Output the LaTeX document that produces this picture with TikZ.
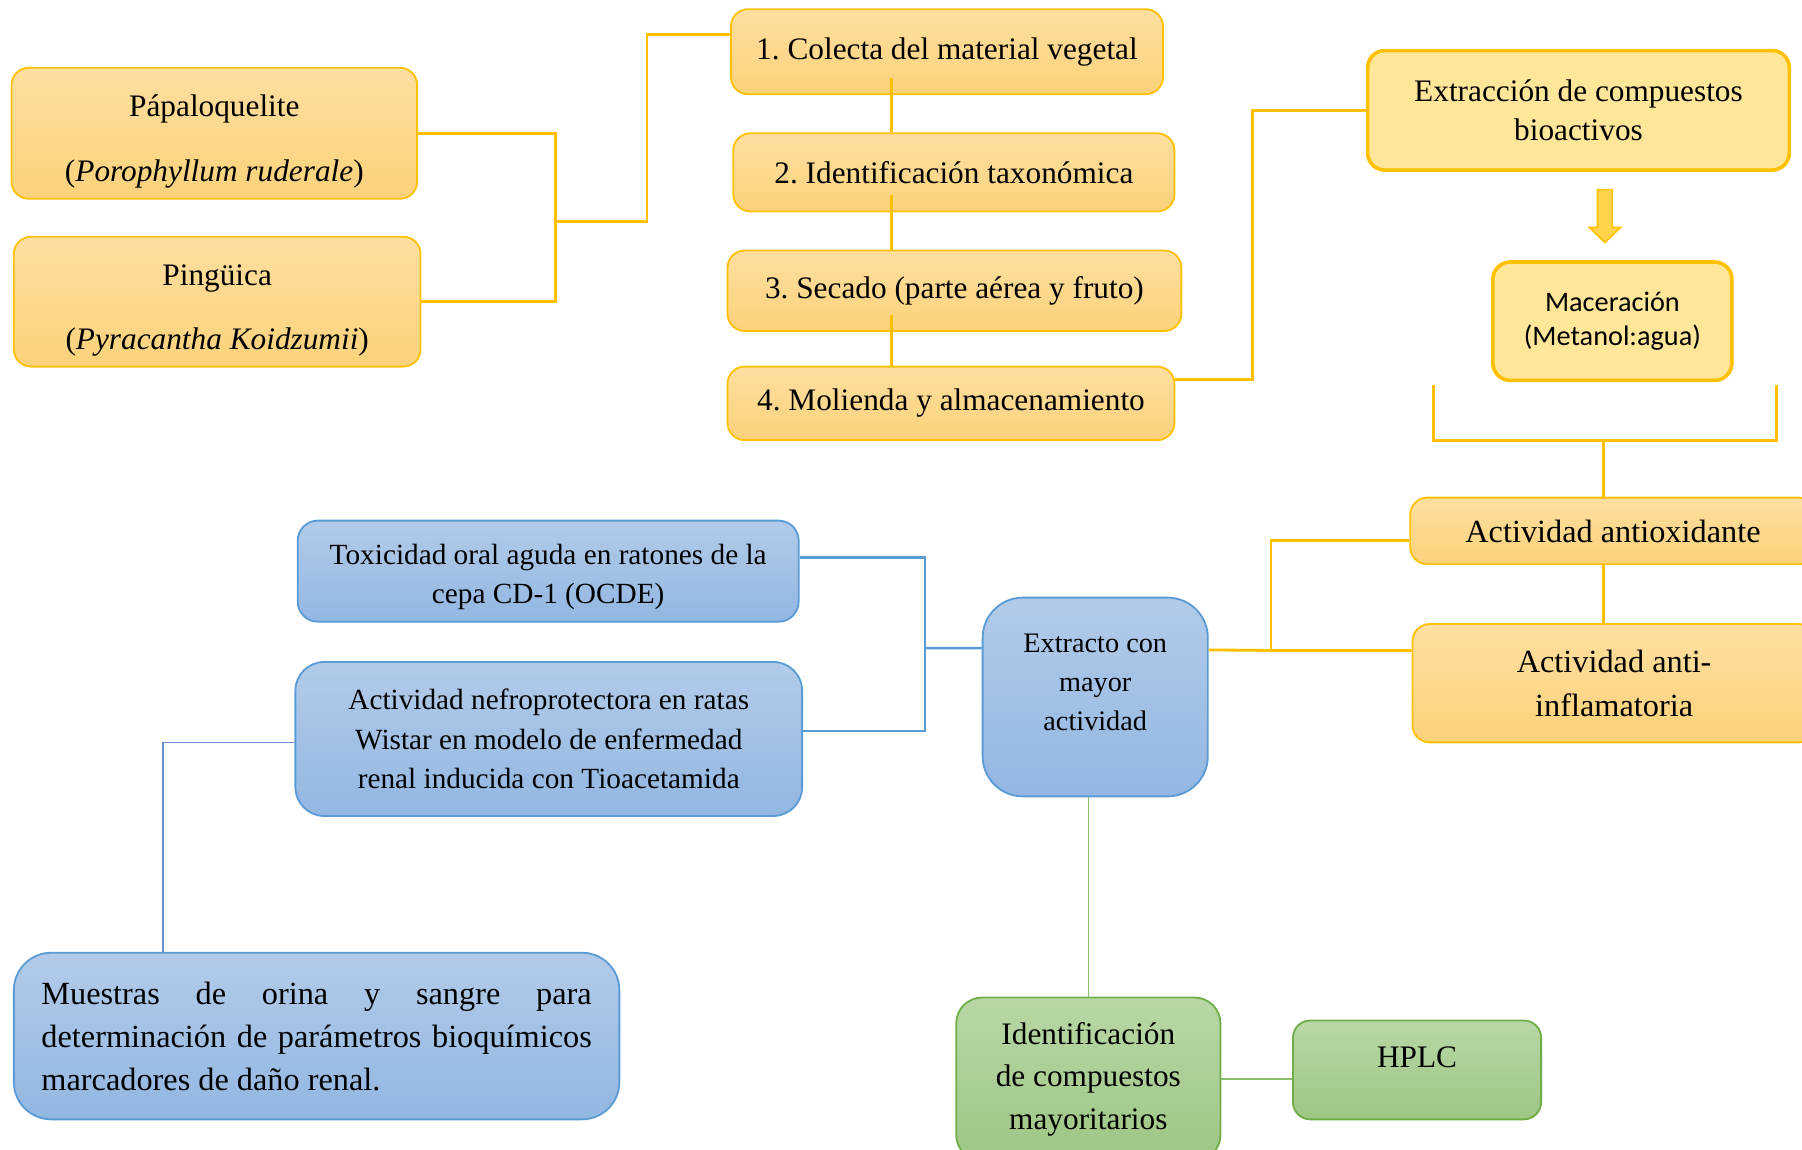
\documentclass[tikz,border=0pt]{standalone}
\usepackage{fontspec}
\setmainfont{Liberation Serif}
\newfontfamily\calibri{Carlito}
\usetikzlibrary{positioning}
\frenchspacing

\definecolor{goldline}{HTML}{FFC000}
\definecolor{ytop}{RGB}{254,223,160}
\definecolor{ybot}{RGB}{252,210,122}
\definecolor{ylight}{HTML}{FFE699}
\definecolor{btop}{RGB}{178,203,233}
\definecolor{bbot}{RGB}{146,183,226}
\definecolor{blueline}{HTML}{5B9BD5}
\definecolor{darkblue}{HTML}{4472C4}
\definecolor{gtop}{RGB}{184,215,165}
\definecolor{gbot}{RGB}{157,198,132}
\definecolor{greenline}{HTML}{70AD47}

\begin{document}
\begin{tikzpicture}[x=0.02cm, y=-0.02cm,
  ybox/.style={rectangle, draw=goldline, top color=ytop, bottom color=ybot, rounded corners=0.3cm, align=center, inner sep=0pt, line width=0.9pt, font=\fontsize{15.5}{21}\selectfont},
  yplain/.style={rectangle, draw=goldline, fill=ylight, rounded corners=0.3cm, align=center, inner sep=0pt, line width=1.8pt},
  bbox/.style={rectangle, draw=blueline, top color=btop, bottom color=bbot, rounded corners=0.5cm, align=center, inner sep=0pt, line width=0.9pt, font=\fontsize{14.5}{19.5}\selectfont},
  gbox/.style={rectangle, draw=greenline, top color=gtop, bottom color=gbot, rounded corners=0.45cm, align=center, inner sep=0pt, line width=0.9pt, font=\fontsize{15.5}{21}\selectfont},
  yline/.style={draw=goldline, line width=1.4pt},
  bline/.style={draw=blueline, line width=1.2pt},
  gline/.style={draw=greenline!80, line width=0.8pt}]

\useasboundingbox (0,0) rectangle (1568,1000);

% plantas
\node[ybox, minimum width=7.06cm, minimum height=2.28cm] (papalo) at (186.5,116) {\rule{0pt}{0.66cm}P\'apaloquelite\\[0.38cm](\textit{Porophyllum ruderale})};
\node[ybox, minimum width=7.08cm, minimum height=2.26cm] (pingu) at (189,262.5) {\rule{0pt}{0.66cm}Ping\"uica\\[0.38cm](\textit{Pyracantha Koidzumii})};

% pasos
\node[ybox, minimum width=7.52cm, minimum height=1.48cm] (colecta) at (824,45) {1. Colecta del material vegetal};
\node[ybox, minimum width=7.68cm, minimum height=1.36cm] (ident) at (830,150) {2. Identificaci\'on taxon\'omica};
\node[ybox, minimum width=7.90cm, minimum height=1.40cm] (secado) at (830.5,253) {3. Secado (parte a\'erea y fruto)};
\node[ybox, minimum width=7.78cm, minimum height=1.28cm] (molienda) at (827.5,351) {4. Molienda y almacenamiento};

% extraccion
\node[yplain, minimum width=7.34cm, minimum height=2.08cm, font=\fontsize{15.5}{19}\selectfont] (extrac) at (1373.5,96) {Extracci\'on de compuestos\\bioactivos};
\node[yplain, minimum width=4.16cm, minimum height=2.06cm, font=\calibri\fontsize{14}{17}\selectfont] (macer) at (1403,279.5) {Maceraci\'on\\(Metanol:agua)};
\node[ybox, minimum width=7.06cm, minimum height=1.16cm, font=\fontsize{16}{21}\selectfont] (antiox) at (1403.5,462) {Actividad antioxidante};
\node[ybox, minimum width=7.02cm, minimum height=2.06cm, font=\fontsize{16}{22}\selectfont] (antiinf) at (1404.5,594.5) {Actividad anti-\\inflamatoria};

% ensayos
\node[bbox, minimum width=8.72cm, minimum height=1.76cm, rounded corners=0.35cm] (toxic) at (477,497) {\rule{0pt}{0.55cm}Toxicidad oral aguda en ratones de la\\cepa CD-1 (OCDE)};
\node[bbox, minimum width=8.82cm, minimum height=2.68cm] (nefro) at (477.5,643) {Actividad nefroprotectora en ratas\\Wistar en modelo de enfermedad\\renal inducida con Tioacetamida};
\node[bbox, minimum width=3.92cm, minimum height=3.46cm, rounded corners=0.7cm, font=\fontsize{14}{19.3}\selectfont] (extracto) at (953,606.5) {Extracto con\\mayor\\actividad\rule[-0.5cm]{0pt}{0.5cm}};
\node[bbox, minimum width=10.54cm, minimum height=2.90cm, rounded corners=0.65cm, text width=9.58cm, align=justify, font=\fontsize{16}{21.3}\selectfont] (muestras) at (275.5,901.5) {Muestras de orina y sangre para\linebreak determinaci\'on de par\'ametros bioqu\'imicos\linebreak marcadores de da\~no renal.};

% compuestos
\node[gbox, minimum width=4.60cm, minimum height=2.84cm] (identif) at (947,939) {Identificaci\'on\\de compuestos\\mayoritarios};
\node[gbox, minimum width=4.32cm, minimum height=1.72cm, rounded corners=0.3cm] (hplc) at (1233,931) {HPLC\rule[-0.45cm]{0pt}{0.45cm}};

% conectores amarillos
\coordinate (jl) at (483,193);
\draw[yline] (papalo.east) -| (jl);
\draw[yline] (pingu.east) -| (jl);
\draw[yline] (jl) -- ++(80,0) |- ([yshift=0.3cm]colecta.west);
\coordinate (stemx) at (776,0);
\foreach \a/\b in {colecta/ident, ident/secado, secado/molienda}
  \draw[yline] ([yshift=0.3cm]stemx |- \a.south) -- (stemx |- \b.north);
\draw[yline] ([yshift=0.42cm]molienda.east) -- ++(67,0) |- (extrac.west);

\draw[draw=goldline, fill=goldline!70, line width=0.8pt] (1390,165) -- (1403,165) -- (1403,198) -- (1410,198) -- (1396.5,211) -- (1383,198) -- (1390,198) -- cycle;

\coordinate (bm) at (1395,383);
\draw[yline] (1247,335) |- (1546,383) -- (1546,335);
\draw[yline] (bm) -- (bm |- antiox.north);
\draw[yline] (bm |- antiox.south) -- (bm |- antiinf.north);
\coordinate (jr) at (1106,566);
\draw[yline] ([yshift=0.82cm]extracto.east) -- (jr) -- ([yshift=0.57cm]antiinf.west);
\draw[yline] (jr) |- ([yshift=-0.16cm]antiox.west);

% conectores azules
\coordinate (jb) at (805,564);
\draw[bline] ([yshift=0.24cm]toxic.east) -| (jb);
\draw[bline] ([yshift=0.14cm]nefro.east) -| (jb);
\draw[bline] (jb) -- ([yshift=0.85cm]extracto.west);
\draw[bline, draw=darkblue!80, line width=0.9pt] ([yshift=-0.06cm]nefro.west) -| ([xshift=-2.67cm]muestras.north);

% conectores verdes
\draw[gline] (extracto.south -| identif.north) -- (identif.north);
\draw[gline] (identif.east) -- (identif.east -| hplc.west);

\end{tikzpicture}
\end{document}
